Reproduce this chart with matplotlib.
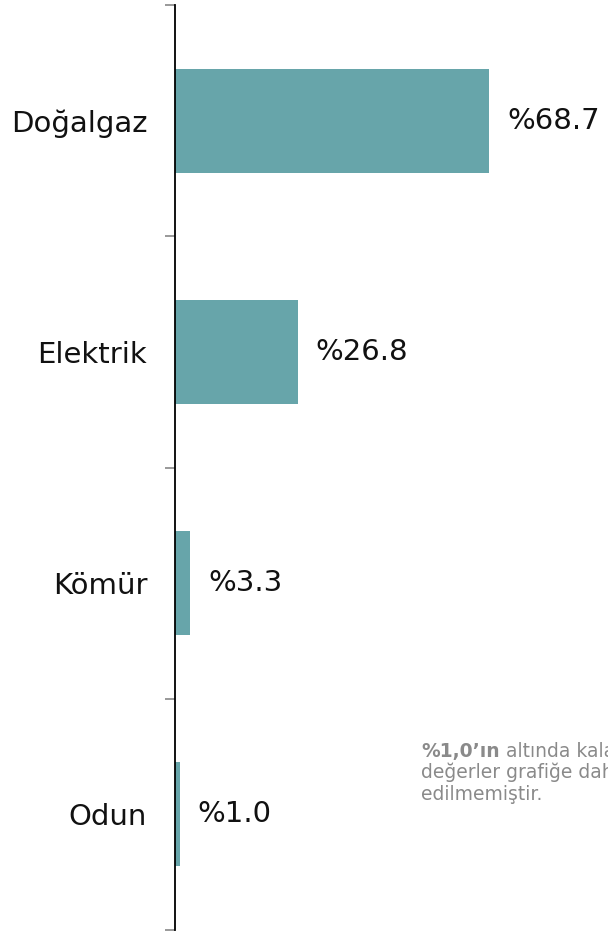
import matplotlib.pyplot as plt
import numpy as np

# yakıt türleri ve payları (%)
categories = ['Doğalgaz', 'Elektrik', 'Kömür', 'Odun']
shares = [68.7, 26.8, 3.3, 1.0]
value_labels = ['%68.7', '%26.8', '%3.3', '%1.0']

plt.rcParams['font.family'] = ['DejaVu Sans']

fig = plt.figure(figsize=(6.08, 9.33), dpi=100)
ax = fig.add_axes([175 / 608, 3 / 933, 1 - 175 / 608, 925 / 933])

y = np.arange(len(categories))
ax.barh(y, shares, height=0.45, color='#67a5aa')
ax.set_ylim(len(categories) - 0.5, -0.5)
ax.set_xlim(0, 94.7)

for yi, v, lab in zip(y, shares, value_labels):
    ax.text(v + 4, yi, lab, va='center', ha='left', fontsize=21, color='#111111')

ax.set_yticks(y)
ax.set_yticklabels(categories, fontsize=21, color='#111111')
ax.tick_params(axis='y', which='major', length=0, pad=20)
ax.set_yticks(np.arange(-0.5, len(categories), 1), minor=True)
ax.tick_params(axis='y', which='minor', length=7, color='#888888', width=1.2)
ax.set_xticks([])

for s in ['top', 'right', 'bottom']:
    ax.spines[s].set_visible(False)
ax.spines['left'].set_color('black')
ax.spines['left'].set_linewidth(1.3)

# not metni
note_col = '#8a8a8a'
note_fs = 13.5
t1 = fig.text(421 / 608, 1 - 757 / 933, '%1,0’ın', fontsize=note_fs, color=note_col,
              weight='bold', va='baseline')
fig.add_artist(plt.Annotation(' altında kalan', xy=(1, 0), xycoords=t1, xytext=(0, 0),
                              textcoords='offset points', fontsize=note_fs, color=note_col,
                              va='bottom', ha='left'))
fig.text(421 / 608, 1 - 762 / 933, 'değerler grafiğe dahil\nedilmemiştir.',
         fontsize=note_fs, color=note_col, va='top', linespacing=1.2)

fig.savefig('out.png', dpi=100)
